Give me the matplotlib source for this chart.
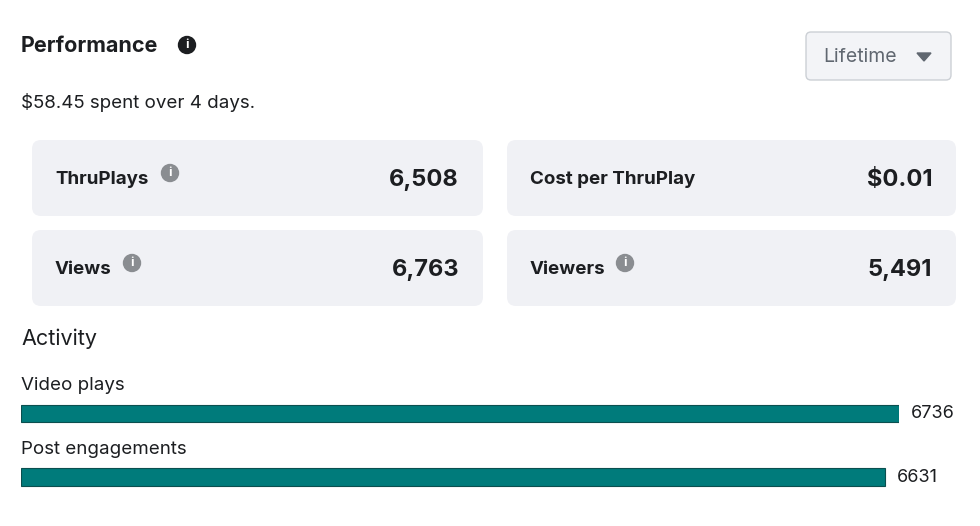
import matplotlib.pyplot as plt
from matplotlib.patches import FancyBboxPatch, Circle, Polygon

plt.rcParams['font.family'] = ['Inter', 'DejaVu Sans']

# data
spent = "$58.45 spent over 4 days."
card_labels = ["ThruPlays", "Cost per ThruPlay", "Views", "Viewers"]
card_values = ["6,508", "$0.01", "6,763", "5,491"]
card_info = [True, False, True, True]
activity_labels = ["Video plays", "Post engagements"]
activity_values = [6736, 6631]

W, H = 980, 526
fig = plt.figure(figsize=(W / 100, H / 100), dpi=100)
ov = fig.add_axes([0, 0, 1, 1])
ov.set_xlim(0, W)
ov.set_ylim(H, 0)
ov.axis("off")

dark = "#1c1e21"


def info_icon(x, y, color):
    ov.add_patch(Circle((x, y), 8.5, color=color, zorder=3))
    ov.text(x, y + 0.5, "i", color="white", fontsize=9, fontweight="bold",
            ha="center", va="center", zorder=4)


ov.text(21, 46, "Performance", fontsize=15.5, fontweight="bold", color=dark, va="center")
info_icon(187, 45, dark)
ov.text(21, 103, spent, fontsize=13.5, color=dark, va="center")

# Lifetime button
ov.add_patch(FancyBboxPatch((806, 32), 145, 48, boxstyle="round,pad=0,rounding_size=5",
                            fc="#f3f4f7", ec="#ccd0d5", lw=1))
ov.text(823, 57, "Lifetime", fontsize=14, color="#606770", va="center")
ov.add_patch(Polygon([[917, 53], [931, 53], [924, 61]], color="#606770"))

# metric cards
boxes = [(32, 140), (507, 140), (32, 230), (507, 230)]
info_x = [170, None, 132, 625]
for i, (bx, by) in enumerate(boxes):
    w = 451 if bx == 32 else 449
    ov.add_patch(FancyBboxPatch((bx, by), w, 76, boxstyle="round,pad=0,rounding_size=9",
                                fc="#f0f1f5", ec="none"))
    cy = by + 40
    ov.text(bx + 23, cy, card_labels[i], fontsize=13.5, fontweight="bold",
            color=dark, va="center")
    ov.text(bx + w - 24, cy, card_values[i], fontsize=17, fontweight="bold",
            color=dark, va="center", ha="right")
    if card_info[i]:
        info_icon(info_x[i], by + 33, "#8a8d91")

ov.text(21, 339, "Activity", fontsize=15.5, color=dark, va="center")
ov.text(21, 385, activity_labels[0], fontsize=13.5, color=dark, va="center")
ov.text(21, 450, activity_labels[1], fontsize=13.5, color=dark, va="center")

# activity bars
ax = fig.add_axes([21 / W, 1 - 492 / H, 878 / W, 92 / H])
ax.patch.set_alpha(0)
ypos = [0, 1]
ax.barh(ypos, activity_values, height=0.27, color="#007b7b", edgecolor="#0b4f4f", lw=0.8)
ax.set_xlim(0, activity_values[0])
ax.set_ylim(1.238, -0.222)
ax.axis("off")
for y, v in zip(ypos, activity_values):
    ax.text(v + 90, y, str(v), fontsize=13, color=dark, va="center", ha="left")

fig.savefig("out.png", dpi=100, facecolor="white")
